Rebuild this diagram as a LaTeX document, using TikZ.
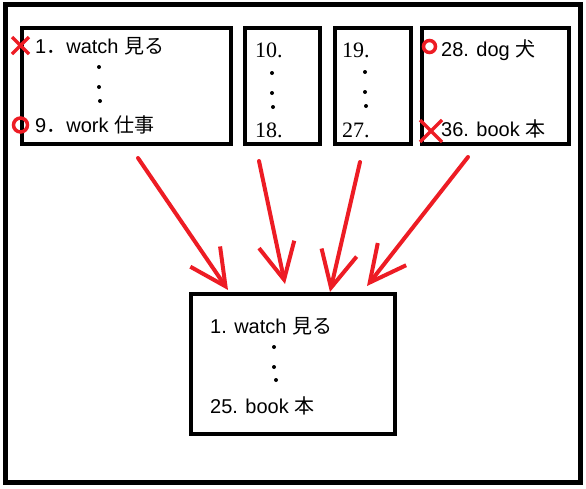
\documentclass[tikz,border=0pt]{standalone}
\usepackage{fontspec}
\setmainfont{Liberation Sans}
\newfontfamily\jpfont{Noto Sans CJK JP}
\newfontfamily\numfont{Liberation Serif}
\usetikzlibrary{arrows.meta, positioning}
\definecolor{paintred}{RGB}{237,28,36}
\tikzstyle{listbox} = [rectangle, draw, line width=4pt, inner sep=0pt, outer sep=0pt, minimum height=116pt]
\tikzstyle{entry} = [anchor=base west, inner sep=0pt, font=\fontsize{20}{24}\selectfont]
\tikzstyle{numentry} = [anchor=base west, inner sep=0pt, font=\numfont\fontsize{22}{26}\selectfont]
\tikzstyle{redpen} = [draw=paintred, line width=3.5pt]
\tikzstyle{arrow} = [paintred, line width=4pt, line cap=round, -{Straight Barb[length=36pt, width=36pt]}]

\begin{document}
\begin{tikzpicture}[x=1pt, y=-1pt]
\useasboundingbox (0,0) rectangle (586,488);

% Outer frame
\draw[line width=5pt] (5.5,4.5) rectangle (580.5,482.5);

% Top row: four word lists, left to right
\node[listbox, minimum width=209pt] (list1) at (126.5,86) {};
\node[listbox, minimum width=75.5pt, right=13.5pt of list1] (list2) {};
\node[listbox, minimum width=76.5pt, right=14.5pt of list2] (list3) {};
\node[listbox, minimum width=147pt, right=11pt of list3] (list4) {};

% Merged list below
\node[listbox, minimum width=203.5pt, minimum height=140pt] (merged) at (292.75,364) {};

% Entries
\node[entry] (w1) at (35,53) {1{\jpfont ．}watch {\jpfont 見る}};
\node[entry] (w9) at (35,132) {9{\jpfont ．}work {\jpfont 仕事}};
\node[numentry] (w10) at (255,57) {10.};
\node[numentry] (w18) at (255,137) {18.};
\node[numentry] (w19) at (342,57) {19.};
\node[numentry] (w27) at (342,137) {27.};
\node[entry] (w28) at (441,56) {28. dog {\jpfont 犬}};
\node[entry] (w36) at (441,136) {36. book {\jpfont 本}};
\node[entry] (m1) at (210,333) {1. watch {\jpfont 見る}};
\node[entry] (m25) at (210,413) {25. book {\jpfont 本}};

% Vertical dots
\foreach \x/\y in {99/67, 99/87, 100/101, 272/73, 272/93, 273/107, 365/72, 365/92, 366/106, 274/347, 274/367, 276/380}
  \fill (\x,\y) circle (2pt);

% Right/wrong marks
\draw[redpen] (12,37) -- (29,54) (29,37) -- (12,54);
\draw[redpen] (20.5,125) circle (7pt);
\draw[redpen] (429.5,46.5) circle (6pt);
\draw[redpen] (420,120) -- (442,142) (442,120) -- (420,142);

% Arrow ends
\coordinate (s1) at (138,158);
\coordinate (t1) at (228,290);
\coordinate (s2) at (259,161);
\coordinate (t2) at (285,284);
\coordinate (s3) at (360,162);
\coordinate (t3) at (330,292);
\coordinate (s4) at (468,157);
\coordinate (t4) at (367,286);

% Lists merge into one
\draw[arrow] (s1) -- (t1);
\draw[arrow] (s2) -- (t2);
\draw[arrow] (s3) -- (t3);
\draw[arrow] (s4) -- (t4);

\end{tikzpicture}
\end{document}
